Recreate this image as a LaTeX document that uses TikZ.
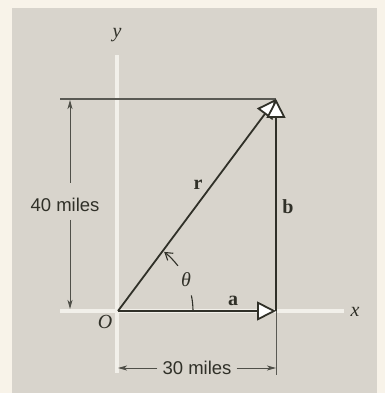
\documentclass[tikz,border=0pt]{standalone}
\usepackage{fontspec}
\setmainfont{Liberation Serif}
\setsansfont{Liberation Sans}
\usetikzlibrary{arrows.meta}
\definecolor{cream}{RGB}{248,243,233}
\definecolor{panel}{RGB}{216,212,204}
\definecolor{ink}{RGB}{48,48,40}
\definecolor{axisw}{RGB}{242,240,234}
\tikzset{
  vec/.style={line width=1.8pt, draw=ink, -{Triangle[length=19pt,width=19pt,fill=white]}},
  dimline/.style={line width=0.8pt, draw=ink!85},
  dimtip/.style={-{Stealth[length=9pt,width=5pt,inset=2.5pt]}},
  axisline/.style={line width=3.5pt, draw=axisw},
  lbl/.style={inner sep=0pt, text=ink, font=\fontsize{20}{20}\selectfont},
  miles/.style={inner sep=0pt, text=ink, font=\sffamily\fontsize{18.5}{18.5}\selectfont}
}
\begin{document}
\begin{tikzpicture}[x=1pt,y=1pt]
\fill[cream] (0,0) rectangle (385,393);
\useasboundingbox (0,0) rectangle (385,393);
\fill[panel] (12,0) rectangle (377,385);
% axes
\draw[axisline] (60,82) -- (344,82);
\draw[axisline] (117,20) -- (117,338);
\node[lbl] (xl) at (355,81) {\textit{x}};
\node[lbl] (yl) at (117,358) {\textit{y}};
% points
\coordinate (O) at (118,82);
\coordinate (A) at (276,82);
\coordinate (T) at (276,294);
\coordinate (TL) at (60,294);
% top extension line
\draw[line width=1.1pt, draw=ink!80] (TL) -- (T);
% bottom extension line
\coordinate (EB) at (276,18);
\draw[line width=0.9pt, draw=ink!80] (A) -- (EB);
% vectors
\draw[vec] (O) -- (A);
\draw[vec] (O) -- (T);
\draw[vec] (A) -- (T);
% labels
\node[lbl] (Ol) at (105,71) {\textit{O}};
\node[lbl] (al) at (233,92) {\textbf{a}};
\node[lbl] (bl) at (288,186) {\textbf{b}};
\node[lbl] (rl) at (198,208) {\textbf{r}};
\node[lbl] (thl) at (186,113) {\textit{θ}};
% angle arc
\draw[line width=1.1pt, draw=ink] (O) ++(0:75) arc (0:12:75);
\draw[line width=1.1pt, draw=ink, -{Straight Barb[length=7pt,width=9pt]}] (O) ++(37:75) arc (37:52:75);
% 40 miles dimension
\coordinate (d1) at (70,293);
\coordinate (d2) at (70,84);
\coordinate (g1) at (70,210);
\coordinate (g2) at (70,173);
\node[miles] (m40) at (65,188) {40 miles};
\draw[dimline, dimtip] (g1) -- (d1);
\draw[dimline, dimtip] (g2) -- (d2);
% 30 miles dimension
\coordinate (e1) at (118,25);
\coordinate (e2) at (276,25);
\node[miles] (m30) at (197,25) {30 miles};
\draw[dimline, dimtip] ([xshift=-5pt]m30.west |- e1) -- (e1);
\draw[dimline, dimtip] ([xshift=5pt]m30.east |- e2) -- (e2);
\end{tikzpicture}
\end{document}
